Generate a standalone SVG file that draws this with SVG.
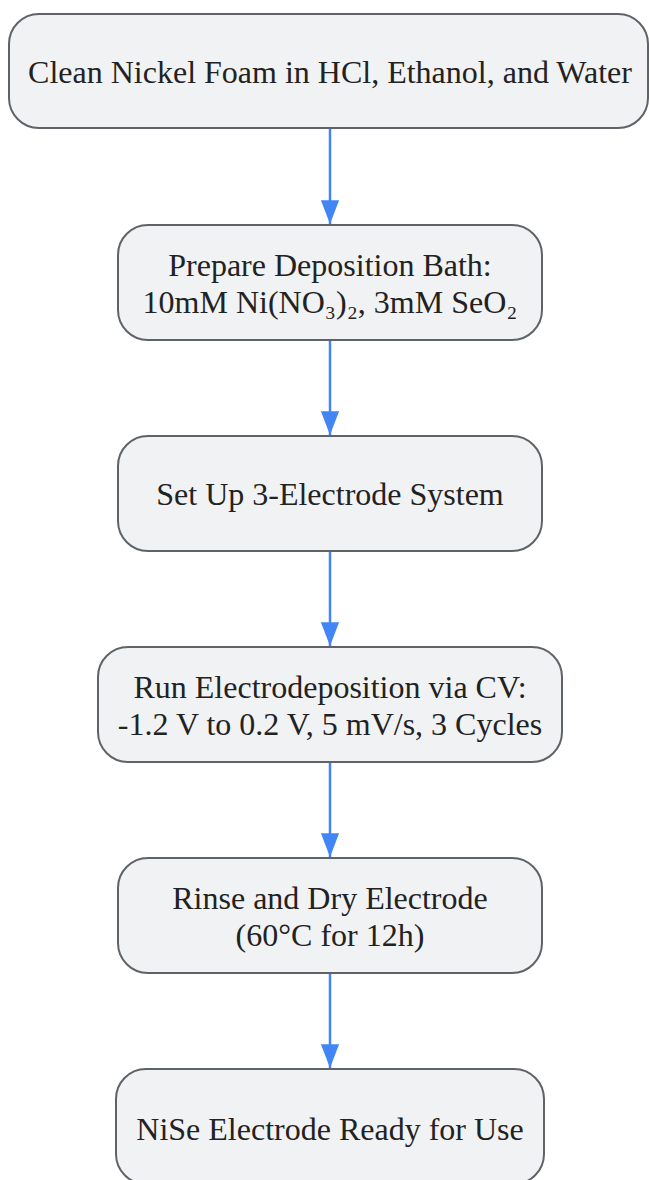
<svg xmlns="http://www.w3.org/2000/svg" width="649" height="1180" viewBox="0 0 649 1180">
<style>
.n rect{fill:#f1f2f4;stroke:#5f6368;stroke-width:2}
.n text{font-family:"Liberation Serif","DejaVu Serif",serif;font-size:32px;fill:#222;text-anchor:middle}
.e line{stroke:#4285f4;stroke-width:2.5}
</style>
<defs>
<marker id="ah" viewBox="0 0 13 10" refX="13" refY="5" markerWidth="9.5" markerHeight="7.3" markerUnits="strokeWidth" orient="auto">
<path d="M0,0 L13,5 L0,10 z" fill="#4285f4"/>
</marker>
</defs>
<g class="e">
<line x1="330" y1="129" x2="330" y2="224" marker-end="url(#ah)"/>
<line x1="330" y1="341" x2="330" y2="435" marker-end="url(#ah)"/>
<line x1="330" y1="552" x2="330" y2="646" marker-end="url(#ah)"/>
<line x1="330" y1="763" x2="330" y2="857" marker-end="url(#ah)"/>
<line x1="330" y1="974" x2="330" y2="1068" marker-end="url(#ah)"/>
</g>
<g id="n1" class="n"><rect x="9" y="14" width="639" height="114" rx="30"/><text x="330" y="83">Clean Nickel Foam in HCl, Ethanol, and Water</text></g>
<g id="n2" class="n"><rect x="118" y="225" width="424" height="115" rx="30"/><text x="330" y="276">Prepare Deposition Bath:</text><text x="330" y="313">10mM Ni(NO₃)₂, 3mM SeO₂</text></g>
<g id="n3" class="n"><rect x="118" y="436" width="424" height="115" rx="30"/><text x="330" y="505">Set Up 3-Electrode System</text></g>
<g id="n4" class="n"><rect x="98" y="647" width="464" height="115" rx="30"/><text x="330" y="698">Run Electrodeposition via CV:</text><text x="330" y="735">-1.2 V to 0.2 V, 5 mV/s, 3 Cycles</text></g>
<g id="n5" class="n"><rect x="118" y="858" width="424" height="115" rx="30"/><text x="330" y="909">Rinse and Dry Electrode</text><text x="330" y="946">(60°C for 12h)</text></g>
<g id="n6" class="n"><rect x="116" y="1069" width="428" height="115" rx="30"/><text x="330" y="1140">NiSe Electrode Ready for Use</text></g>
</svg>
